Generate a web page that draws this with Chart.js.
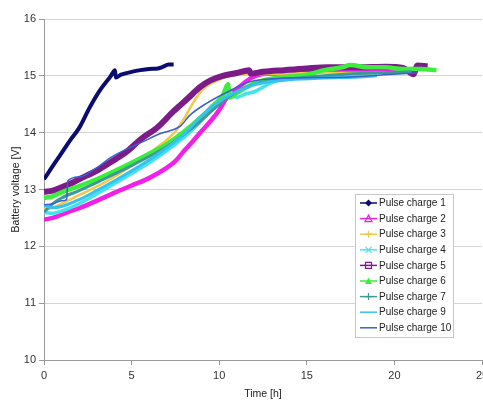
<!DOCTYPE html>
<html>
<head>
<meta charset="utf-8">
<script src="https://cdn.jsdelivr.net/npm/chart.js@4"></script>
<style>
  html, body { margin: 0; padding: 0; background: #fff; }
  #wrap { width: 483px; height: 404px; position: relative; }
</style>
</head>
<body>
<div id="wrap"><canvas id="chart"></canvas></div>
<script>
// Series labels and [time h, voltage V] readings
const labels = ['Pulse charge 1', 'Pulse charge 2', 'Pulse charge 3', 'Pulse charge 4', 'Pulse charge 5',
    'Pulse charge 6', 'Pulse charge 7', 'Pulse charge 9', 'Pulse charge 10'];

const pulse1 = [[0,13.18],[0.3,13.32],[0.6,13.46],[1,13.64],[1.5,13.87],[2,14.08],[2.6,14.44],[3.2,14.75],
    [3.8,14.99],[4.05,15.1],[4.1,14.97],[4.4,15.02],[5,15.07],[5.5,15.1],[6,15.12],[6.5,15.13],[6.8,15.16],[7.1,15.2],[7.4,15.2]];
const pulse2 = [[0,12.47],[0.5,12.5],[1,12.56],[1.5,12.62],[2,12.67],[3,12.8],[4,12.94],[5,13.07],[6,13.2],[7,13.38],
    [7.5,13.5],[8,13.68],[8.5,13.85],[9,14.03],[9.5,14.2],[10,14.4],[10.4,14.6],[10.8,14.72],[11.2,14.82],[11.8,14.96],
    [12.5,15.03],[14,15.05],[16,15.08],[18,15.1],[20,15.1],[21,15.12]];
const pulse3 = [[0,12.65],[0.5,12.68],[1,12.75],[2,12.9],[3,13.05],[4,13.22],[5,13.42],[6,13.64],[7,13.87],[7.5,14.02],
    [8,14.25],[8.5,14.52],[9,14.74],[9.5,14.86],[10,14.93],[10.6,15.0],[12,15.03],[14,15.04],[16,15.05],[18,15.05],[19.5,15.06]];
const pulse4 = [[0,12.6],[0.5,12.58],[1,12.62],[2,12.75],[3,12.92],[4,13.1],[5,13.28],[6,13.47],[7,13.68],[8,13.92],
    [8.5,14.06],[9,14.22],[9.5,14.45],[10,14.55],[10.3,14.62],[10.6,14.72],[11,14.62],[11.5,14.68],[12,14.72],[12.5,14.8],
    [13,14.88],[14,14.95],[15,14.98],[16,14.99],[17,14.98],[18,15.0]];
const pulse5 = [[0,12.96],[0.5,12.98],[1,13.04],[1.5,13.1],[2,13.18],[3,13.33],[3.8,13.48],[4.7,13.66],[5.5,13.88],
    [6.5,14.1],[7.4,14.38],[8.2,14.6],[8.9,14.8],[9.5,14.92],[10.2,15.0],[11,15.05],[11.7,15.1],[11.8,15.04],[12.5,15.07],
    [13.7,15.1],[15,15.13],[16.2,15.15],[18,15.15],[19.5,15.16],[20.5,15.14],[21.1,15.03],[21.3,15.18],[21.9,15.17]];
const pulse6 = [[0,12.85],[0.5,12.88],[1,12.95],[2,13.06],[3,13.18],[4,13.32],[5,13.47],[6,13.63],[7,13.8],[8,14.02],
    [9,14.28],[9.8,14.52],[10.2,14.65],[10.5,14.85],[10.6,14.62],[11,14.7],[11.8,14.84],[12.5,14.92],[13.5,14.97],
    [15,15.02],[16,15.1],[17,15.15],[17.5,15.19],[18.5,15.15],[19.5,15.15],[20.5,15.12],[21.5,15.12],[22.4,15.1]];
const pulse7 = [[0,12.6],[0.5,12.75],[1,12.85],[2,12.98],[3,13.12],[4,13.27],[5,13.42],[6,13.58],[7,13.75],[8,13.97],
    [9,14.22],[10,14.5],[11,14.72],[12,14.85],[13,14.92],[14,14.95],[16,15.0],[18,15.04],[20,15.06],[21,15.07]];
const pulse9 = [[0,12.72],[0.5,12.68],[1,12.7],[2,12.82],[3,12.98],[4,13.15],[5,13.33],[6,13.52],[7,13.73],[8,13.98],
    [9,14.3],[10,14.55],[11,14.72],[12,14.84],[13,14.9],[14,14.93],[16,14.96],[18,14.98],[19,15.0]];
const pulse10 = [[0,12.73],[0.5,12.75],[1,12.8],[1.3,12.82],[1.35,13.15],[2,13.22],[3,13.38],[3.8,13.56],[4.5,13.68],
    [5.5,13.82],[6.6,13.98],[7.8,14.12],[8.3,14.3],[9.3,14.52],[10.5,14.72],[11.8,14.9],[13.7,14.96],[15.5,14.97],
    [17.5,14.98],[19.4,15.02],[21.3,15.05]];

const xTicks = [0, 5, 10, 15, 20, 25];
const yTicks = [10, 11, 12, 13, 14, 15, 16];

const seriesData = [pulse1, pulse2, pulse3, pulse4, pulse5, pulse6, pulse7, pulse9, pulse10];
const colors = ['#0b0b70', '#f020e8', '#f2c846', '#44e4ee', '#7c1c88', '#3cee3c', '#3c9a96', '#36c2ee', '#3a5fd0'];
const widths = [4, 4.5, 2.5, 3.5, 6, 4.5, 3, 3, 1.5];
const markers = ['diamond', 'triangleOpen', 'plus', 'cross', 'squareOpen', 'triangle', 'plus', 'none', 'none'];

const font = 'Liberation Sans, Arial, sans-serif';

function drawMarker(ctx, type, x, y, color) {
    ctx.save();
    ctx.strokeStyle = color;
    ctx.fillStyle = color;
    ctx.lineWidth = 1.2;
    ctx.beginPath();
    if (type === 'diamond') {
        ctx.moveTo(x, y - 3.5); ctx.lineTo(x + 3.5, y); ctx.lineTo(x, y + 3.5); ctx.lineTo(x - 3.5, y);
        ctx.closePath(); ctx.fill();
    } else if (type === 'triangle' || type === 'triangleOpen') {
        ctx.moveTo(x, y - 3.5); ctx.lineTo(x + 3.5, y + 3); ctx.lineTo(x - 3.5, y + 3); ctx.closePath();
        if (type === 'triangle') ctx.fill(); else ctx.stroke();
    } else if (type === 'squareOpen') {
        ctx.rect(x - 3, y - 3, 6, 6); ctx.stroke();
    } else if (type === 'plus') {
        ctx.moveTo(x - 3.5, y); ctx.lineTo(x + 3.5, y); ctx.moveTo(x, y - 3.5); ctx.lineTo(x, y + 3.5); ctx.stroke();
    } else if (type === 'cross') {
        ctx.moveTo(x - 3, y - 3); ctx.lineTo(x + 3, y + 3); ctx.moveTo(x + 3, y - 3); ctx.lineTo(x - 3, y + 3); ctx.stroke();
    }
    ctx.restore();
}

// Excel-like boxed legend inside the plot area
const boxLegend = {
    id: 'boxLegend',
    afterDraw(chart) {
        const ctx = chart.ctx;
        const left = 355, top = 194, w = 98, h = 143;
        ctx.save();
        ctx.fillStyle = '#fff';
        ctx.fillRect(left, top, w, h);
        ctx.strokeStyle = '#c8c8c8';
        ctx.lineWidth = 1;
        ctx.strokeRect(left + 0.5, top + 0.5, w, h);
        ctx.font = '10px ' + font;
        ctx.textBaseline = 'middle';
        labels.forEach((label, i) => {
            const y = 203 + i * 15.6;
            ctx.strokeStyle = colors[i];
            ctx.lineWidth = 1.5;
            ctx.beginPath();
            ctx.moveTo(360, y);
            ctx.lineTo(377, y);
            ctx.stroke();
            drawMarker(ctx, markers[i], 368.5, y, colors[i]);
            ctx.fillStyle = '#222';
            ctx.fillText(label, 379, y + 0.5);
        });
        ctx.restore();
    }
};

new Chart(document.getElementById('chart'), {
    type: 'line',
    data: {
        datasets: seriesData.map((d, i) => ({
            label: labels[i],
            data: d,
            borderColor: colors[i],
            backgroundColor: colors[i],
            borderWidth: widths[i],
            pointRadius: 0,
            cubicInterpolationMode: 'monotone',
            order: 20 - i
        }))
    },
    options: {
        responsive: true,
        maintainAspectRatio: false,
        animation: false,
        layout: { padding: { top: 19, right: 1, left: 0, bottom: 0 } },
        plugins: { legend: { display: false }, tooltip: { enabled: false } },
        scales: {
            x: {
                type: 'linear',
                min: 0, max: 25,
                afterBuildTicks: s => { s.ticks = xTicks.map(v => ({ value: v })); },
                afterFit: s => { s.height = 44; s.paddingLeft = 0; s.paddingRight = 0; },
                ticks: { color: '#333', font: { family: font, size: 11 }, padding: 4, maxRotation: 0 },
                grid: { drawOnChartArea: false, drawTicks: true, tickLength: 5, color: '#999' },
                border: { color: '#999' },
                title: { display: true, text: 'Time [h]', color: '#222', font: { family: font, size: 10.5 }, padding: { top: 0, bottom: 4 } }
            },
            y: {
                min: 10, max: 16,
                afterBuildTicks: s => { s.ticks = yTicks.map(v => ({ value: v })); },
                afterFit: s => { s.width = 44; s.paddingTop = 0; s.paddingBottom = 0; },
                ticks: { color: '#333', font: { family: font, size: 11 }, padding: 3 },
                grid: { color: '#d4d4d4', tickLength: 5, tickColor: '#999' },
                border: { color: '#999' },
                title: { display: true, text: 'Battery voltage [V]', color: '#222', font: { family: font, size: 10.5 }, padding: { top: 10, bottom: 0 } }
            }
        }
    },
    plugins: [boxLegend]
});
</script>
</body>
</html>
